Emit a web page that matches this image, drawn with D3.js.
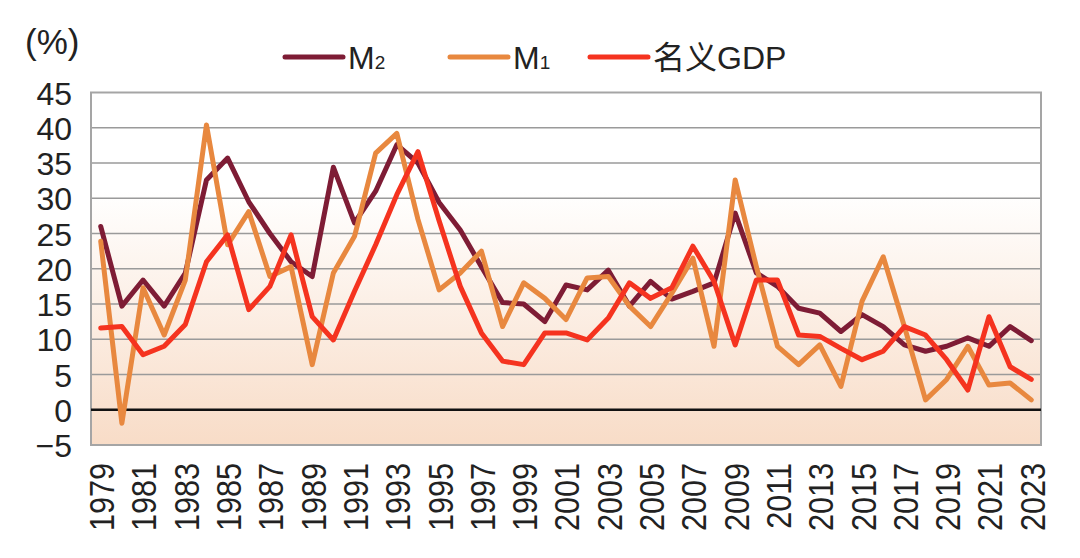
<!DOCTYPE html>
<html><head><meta charset="utf-8">
<script src="https://cdn.jsdelivr.net/npm/d3@7"></script>
<style>body{margin:0;background:#fff}svg{display:block}</style>
</head><body>
<svg id="c" width="1080" height="558"></svg>
<script>
const years = d3.range(1979, 2024);
const m2 = [26.0,14.7,18.4,14.7,19.4,32.6,35.7,29.5,25.0,21.0,18.9,34.4,26.5,31.0,37.6,35.0,29.4,25.5,20.3,15.2,15.0,12.5,17.7,17.0,19.8,14.7,18.2,15.7,16.8,18.0,27.9,19.4,17.5,14.4,13.7,11.1,13.5,11.8,9.2,8.3,9.0,10.2,9.0,11.8,9.8];
const m1 = [23.9,-1.9,17.3,10.6,18.4,40.4,23.4,28.1,18.9,20.3,6.4,19.4,24.6,36.4,39.2,27.0,17.0,19.4,22.5,11.8,18.0,15.8,12.8,18.7,18.9,14.7,11.8,16.5,21.5,9.0,32.6,20.3,9.0,6.4,9.2,3.3,15.4,21.7,11.8,1.4,4.3,9.0,3.5,3.8,1.4];
const gdp = [11.6,11.8,7.8,9.0,12.1,21.0,24.8,14.2,17.5,24.8,13.2,9.9,16.8,23.4,30.5,36.6,26.8,17.5,10.9,6.9,6.4,10.9,10.9,9.9,13.0,18.0,15.8,17.3,23.2,18.2,9.2,18.4,18.4,10.6,10.4,8.7,7.1,8.3,11.8,10.6,7.1,2.8,13.2,6.1,4.3];
const yTicks = [-5,0,5,10,15,20,25,30,35,40,45];
const xTickYears = years.filter(y => (y - 1979) % 2 === 0);
const seriesNames = ["M", "M", "名义"];
const seriesSubs = ["2", "1", ""];
const seriesTail = ["", "", "GDP"];
const colors = ["#7e1c35", "#e8883f", "#f5331f"];

const svg = d3.select("#c");
const L = 91, R = 1041, T = 92.5, B = 445;
const x = d3.scalePoint().domain(years).range([L, R]).padding(0.46);
const y = d3.scaleLinear().domain([-5, 45]).range([B, T]);

const defs = svg.append("defs");
const g = defs.append("linearGradient").attr("id","bg").attr("x1",0).attr("y1",0).attr("x2",0).attr("y2",1);
g.append("stop").attr("offset","0%").attr("stop-color","#ffffff");
g.append("stop").attr("offset","28%").attr("stop-color","#ffffff");
g.append("stop").attr("offset","100%").attr("stop-color","#f8dcc7");
svg.append("rect").attr("x",L).attr("y",T).attr("width",R-L).attr("height",B-T).attr("fill","url(#bg)");

// gridlines
svg.append("g").selectAll("line").data(yTicks.filter(v => v !== 0 && v !== -5 && v !== 45)).join("line")
  .attr("x1", L).attr("x2", R).attr("y1", d => y(d)).attr("y2", d => y(d))
  .attr("stroke", "#9a9a9a").attr("stroke-width", 1.4);
svg.append("rect").attr("x",L).attr("y",T).attr("width",R-L).attr("height",B-T)
  .attr("fill","none").attr("stroke","#a5a5a5").attr("stroke-width",2);
svg.append("line").attr("x1",L).attr("x2",R).attr("y1",y(0)).attr("y2",y(0))
  .attr("stroke","#111").attr("stroke-width",2.5);

// y axis
const yAxis = d3.axisLeft(y).tickValues(yTicks).tickSize(0).tickPadding(0)
  .tickFormat(d => d < 0 ? "\u2212" + Math.abs(d) : d);
const ya = svg.append("g").attr("transform", `translate(72,0)`).call(yAxis);
ya.select(".domain").remove();
ya.selectAll("text").attr("font-family","Liberation Sans, Arial, sans-serif").attr("font-size",32).attr("fill","#222").attr("dy","0.36em");

// x axis
const xAxis = d3.axisBottom(x).tickValues(xTickYears).tickSize(0).tickPadding(0);
const xa = svg.append("g").attr("transform", `translate(0,${B})`).call(xAxis);
xa.select(".domain").remove();
xa.selectAll("text").attr("font-family","Liberation Sans, Arial, sans-serif").attr("font-size",36).attr("fill","#222")
  .attr("text-anchor","end").attr("transform","rotate(-90) scale(0.85,1)").attr("x",-18/0.85).attr("y",0).attr("dy","0.36em");

// lines
const line = d3.line().x((d,i) => x(years[i])).y(d => y(d));
[m2, m1, gdp].forEach((s, k) => {
  svg.append("path").datum(s).attr("d", line).attr("fill","none")
    .attr("stroke", colors[k]).attr("stroke-width", 5).attr("stroke-linejoin","round").attr("stroke-linecap","round");
});

// unit label
svg.append("text").attr("x",25).attr("y",54).attr("font-family","Liberation Sans, sans-serif")
  .attr("font-size",35).attr("fill","#222").text("(%)");

// legend
const legX = [285, 450, 590];
legX.forEach((lx, k) => {
  svg.append("line").attr("x1",lx).attr("x2",lx+58).attr("y1",57).attr("y2",57)
    .attr("stroke",colors[k]).attr("stroke-width",5).attr("stroke-linecap","round");
  const t = svg.append("text").attr("x",lx+63).attr("y",69)
    .attr("font-family","Liberation Sans, Noto Sans CJK SC, sans-serif").attr("font-size",32).attr("fill","#222");
  t.append("tspan").attr("font-family", k===2 ? "Noto Sans CJK SC" : "Liberation Sans").text(seriesNames[k]);
  if (seriesSubs[k]) t.append("tspan").attr("font-size",19).text(seriesSubs[k]);
  if (seriesTail[k]) t.append("tspan").text(seriesTail[k]);
});
</script>
</body></html>
